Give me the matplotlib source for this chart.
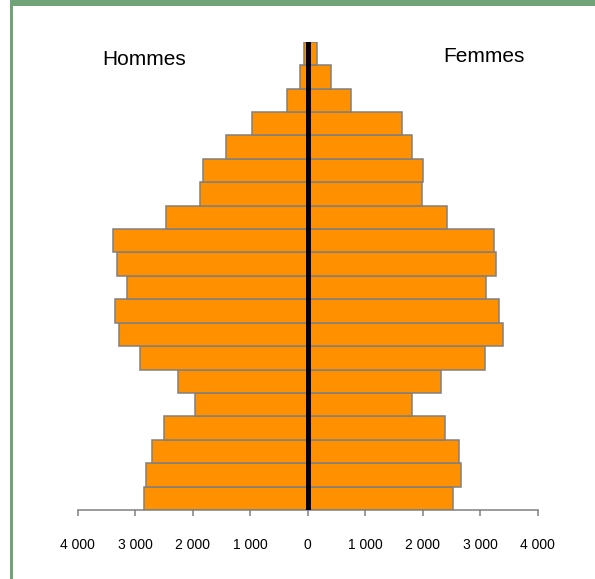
import matplotlib
matplotlib.use('Agg')
import matplotlib.pyplot as plt
from matplotlib.patches import Rectangle
from matplotlib.ticker import FuncFormatter

plt.rcParams['font.family'] = ['Liberation Sans', 'DejaVu Sans']

# tranches d'âge, de la plus jeune à la plus âgée
ages = ['0-4', '5-9', '10-14', '15-19', '20-24', '25-29', '30-34', '35-39',
        '40-44', '45-49', '50-54', '55-59', '60-64', '65-69', '70-74',
        '75-79', '80-84', '85-89', '90-94', '95+']
hommes = [2838, 2803, 2699, 2496, 1957, 2257, 2908, 3278, 3348, 3139,
          3313, 3377, 2464, 1861, 1820, 1414, 968, 360, 127, 60]
femmes = [2525, 2664, 2635, 2397, 1817, 2327, 3082, 3405, 3336, 3110,
          3278, 3249, 2430, 1983, 2012, 1809, 1640, 753, 417, 160]
ticks = [-4000, -3000, -2000, -1000, 0, 1000, 2000, 3000, 4000]

orange = '#ff9100'
gris = '#808080'
vert = '#70a478'

fig = plt.figure(figsize=(5.95, 5.79), dpi=100)
ax = fig.add_axes([77.5 / 595, 69 / 579, 460 / 595, 468.3 / 579])

y = range(len(ages))
ax.barh(y, [-h for h in hommes], height=1.0, color=orange, edgecolor=gris, linewidth=1.1)
ax.barh(y, femmes, height=1.0, color=orange, edgecolor=gris, linewidth=1.1)
ax.axvline(0, color='black', linewidth=3.6, zorder=5)

ax.set_xlim(-4000, 4000)
ax.set_ylim(-0.5, len(ages) - 0.5)
ax.set_xticks(ticks)
ax.xaxis.set_major_formatter(FuncFormatter(lambda v, p: f'{abs(int(v)):,}'.replace(',', ' ')))
ax.set_yticks([])
for s in ['left', 'top', 'right']:
    ax.spines[s].set_visible(False)
ax.spines['bottom'].set_color(gris)
ax.spines['bottom'].set_linewidth(1.1)
ax.tick_params(axis='x', direction='out', length=4, width=1.1, color=gris,
               pad=16, labelsize=10, labelcolor='black')

fig.text(144.5 / 595, 1 - 59.5 / 579, 'Hommes', ha='center', va='center', fontsize=15)
fig.text(484 / 595, 1 - 57 / 579, 'Femmes', ha='center', va='center', fontsize=15)

# cadre vert (gauche + haut)
fig.add_artist(Rectangle((10 / 595, 0), 2.5 / 595, 1, transform=fig.transFigure,
                         color=vert, lw=0))
fig.add_artist(Rectangle((10 / 595, 1 - 6 / 579), 1, 6 / 579, transform=fig.transFigure,
                         color=vert, lw=0))

plt.savefig('out.png', dpi=100)
plt.close()
